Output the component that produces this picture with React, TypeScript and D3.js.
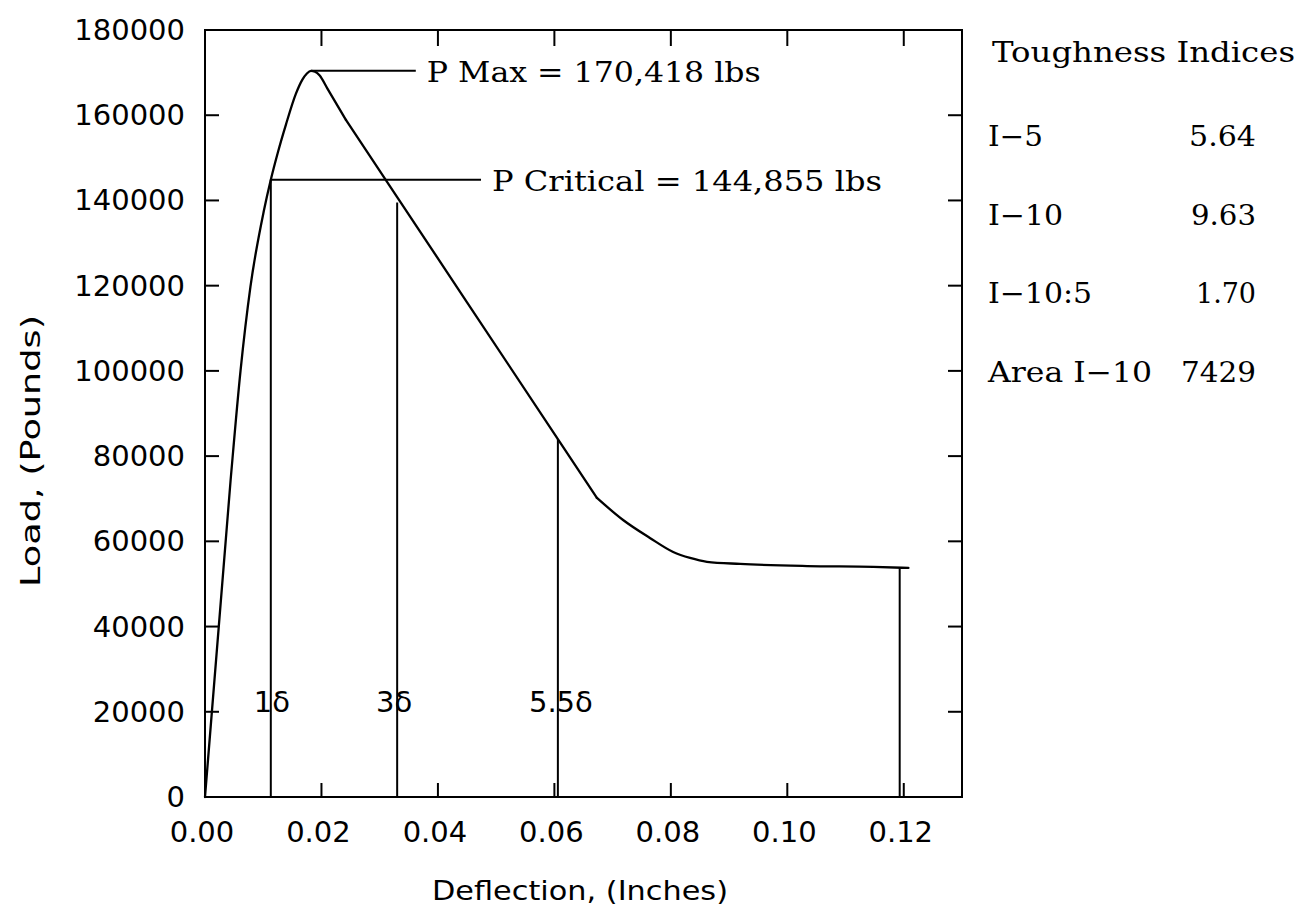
import React from 'react';
import * as d3 from 'd3';

// ---- data ----
// rising branch up to the peak and just past it (smooth)
const riseDeflection = [0, 0.0044, 0.0061, 0.0078, 0.0101, 0.0113, 0.0125, 0.0139, 0.0156, 0.0167, 0.0175, 0.0182, 0.0189, 0.0197, 0.0210, 0.0242];
const riseLoad = [0, 74400, 100000, 119700, 137500, 144855, 151200, 157800, 165000, 168300, 169800, 170418, 170200, 169300, 166300, 158900];
// straight softening branch
const dropDeflection = [0.0242, 0.0330, 0.0450, 0.0606, 0.0673];
const dropLoad = [158900, 140800, 116100, 84000, 70200];
// residual tail
const tailDeflection = [0.0673, 0.0718, 0.0764, 0.0804, 0.0833, 0.0862, 0.0919, 0.1034, 0.1148, 0.1208];
const tailLoad = [70200, 65000, 60800, 57500, 56100, 55200, 54700, 54200, 54000, 53750];

const xTicks = [0, 0.02, 0.04, 0.06, 0.08, 0.10, 0.12];
const xTickLabels = ['0.00', '0.02', '0.04', '0.06', '0.08', '0.10', '0.12'];
const yTicks = [0, 20000, 40000, 60000, 80000, 100000, 120000, 140000, 160000, 180000];
const yTickLabels = ['0', '20000', '40000', '60000', '80000', '100000', '120000', '140000', '160000', '180000'];

const markerX = [0.0113, 0.0330, 0.0606, 0.1193];
const markerTop = [144855, 139500, 84000, 53750];
const markerLabels = ['1δ', '3δ', '5.5δ', ''];

const annotationText = ['P Max = 170,418 lbs', 'P Critical = 144,855 lbs'];
const annotationStartX = [0.0182, 0.0113];
const annotationLoad = [170418, 144855];
const annotationEndX = [0.0362, 0.0474];

const indexNames = ['I−5', 'I−10', 'I−10:5', 'Area I−10'];
const indexValues = ['5.64', '9.63', '1.70', '7429'];

// ---- layout (not data) ----
const SANS = "'DejaVu Sans', sans-serif";
const SERIF = "'DejaVu Serif', serif";
const markerLabelDx = [1, -3, 3, 0];
const annotationWidths = [334, 390];
const indexNameWidths = [55, 75, 104, 164];
const indexValueWidths = [67, 65, 60, 75];

export default function App() {
  const W = 1310, H = 913;
  const m = { left: 205, right: 962, top: 30, bottom: 797 };
  const x = d3.scaleLinear().domain([0, 0.13]).range([m.left, m.right]);
  const y = d3.scaleLinear().domain([0, 180000]).range([m.bottom, m.top]);
  const zip = (a: number[], b: number[]) => a.map((d, i) => [d, b[i]] as [number, number]);
  const smooth = d3.line<[number, number]>().x(d => x(d[0])).y(d => y(d[1])).curve(d3.curveMonotoneX);
  const straight = d3.line<[number, number]>().x(d => x(d[0])).y(d => y(d[1])).curve(d3.curveLinear);
  const tl = 14;
  const sw = 2;
  const cw = 2.3;

  return (
    <svg width={W} height={H} style={{ position: 'absolute', left: 0, top: 0, background: '#fff' }}>
      <rect x={0} y={0} width={W} height={H} fill="#fff" />
      {/* frame */}
      <rect x={m.left} y={m.top} width={m.right - m.left} height={m.bottom - m.top} fill="none" stroke="#000" strokeWidth={sw} />
      {/* x ticks bottom & top */}
      {xTicks.filter(t => t > 0).map((t, i) => (
        <g key={'xt' + i}>
          <line x1={x(t)} x2={x(t)} y1={m.bottom} y2={m.bottom - tl} stroke="#000" strokeWidth={sw} />
          <line x1={x(t)} x2={x(t)} y1={m.top} y2={m.top + tl + 2} stroke="#000" strokeWidth={sw} />
        </g>
      ))}
      {/* y ticks left & right */}
      {yTicks.filter(t => t > 0 && t < 180000).map((t, i) => (
        <g key={'yt' + i}>
          <line x1={m.left} x2={m.left + tl} y1={y(t)} y2={y(t)} stroke="#000" strokeWidth={sw} />
          <line x1={m.right} x2={m.right - tl} y1={y(t)} y2={y(t)} stroke="#000" strokeWidth={sw} />
        </g>
      ))}
      {/* tick labels */}
      {xTicks.map((t, i) => (
        <text key={'xl' + i} x={x(t) - 3} y={842} textAnchor="middle" fontFamily={SANS} fontSize={29} fill="#000">{xTickLabels[i]}</text>
      ))}
      {yTicks.map((t, i) => (
        <text key={'yl' + i} x={185} y={y(t) + 10} textAnchor="end" fontFamily={SANS} fontSize={29} fill="#000">{yTickLabels[i]}</text>
      ))}
      {/* axis titles */}
      <text x={580} y={900} textAnchor="middle" fontFamily={SANS} fontSize={27} textLength={296} lengthAdjust="spacingAndGlyphs" fill="#000">Deflection, (Inches)</text>
      <text transform="translate(40,451) rotate(-90)" textAnchor="middle" fontFamily={SANS} fontSize={27} textLength={272} lengthAdjust="spacingAndGlyphs" fill="#000">Load, (Pounds)</text>

      {/* marker verticals */}
      {markerX.map((mx, i) => (
        <g key={'mk' + i}>
          <line x1={x(mx)} x2={x(mx)} y1={m.bottom} y2={y(markerTop[i])} stroke="#000" strokeWidth={sw} />
          {markerLabels[i] && (
            <text x={x(mx) + markerLabelDx[i]} y={712} textAnchor="middle" fontFamily={SANS} fontSize={29} fill="#000">{markerLabels[i]}</text>
          )}
        </g>
      ))}

      {/* curve */}
      <path d={smooth(zip(riseDeflection, riseLoad)) || ''} fill="none" stroke="#000" strokeWidth={cw} strokeLinejoin="round" strokeLinecap="round" />
      <path d={straight(zip(dropDeflection, dropLoad)) || ''} fill="none" stroke="#000" strokeWidth={cw} strokeLinejoin="round" strokeLinecap="round" />
      <path d={smooth(zip(tailDeflection, tailLoad)) || ''} fill="none" stroke="#000" strokeWidth={cw} strokeLinejoin="round" strokeLinecap="round" />

      {/* annotations */}
      {annotationText.map((t, i) => (
        <g key={'an' + i}>
          <line x1={x(annotationStartX[i])} x2={x(annotationEndX[i])} y1={y(annotationLoad[i])} y2={y(annotationLoad[i])} stroke="#000" strokeWidth={sw} />
          <text x={x(annotationEndX[i]) + 11} y={y(annotationLoad[i]) + 11} fontFamily={SERIF} fontSize={28} textLength={annotationWidths[i]} lengthAdjust="spacingAndGlyphs" fill="#000">{t}</text>
        </g>
      ))}

      {/* toughness table */}
      <text x={992} y={62} fontFamily={SERIF} fontSize={28} textLength={303} lengthAdjust="spacingAndGlyphs" fill="#000">Toughness Indices</text>
      {indexNames.map((n, i) => (
        <g key={'ix' + i}>
          <text x={988} y={146 + i * 78.5} fontFamily={SERIF} fontSize={28} textLength={indexNameWidths[i]} lengthAdjust="spacingAndGlyphs" fill="#000">{n}</text>
          <text x={1256} y={146 + i * 78.5} textAnchor="end" fontFamily={SERIF} fontSize={28} textLength={indexValueWidths[i]} lengthAdjust="spacingAndGlyphs" fill="#000">{indexValues[i]}</text>
        </g>
      ))}
    </svg>
  );
}
